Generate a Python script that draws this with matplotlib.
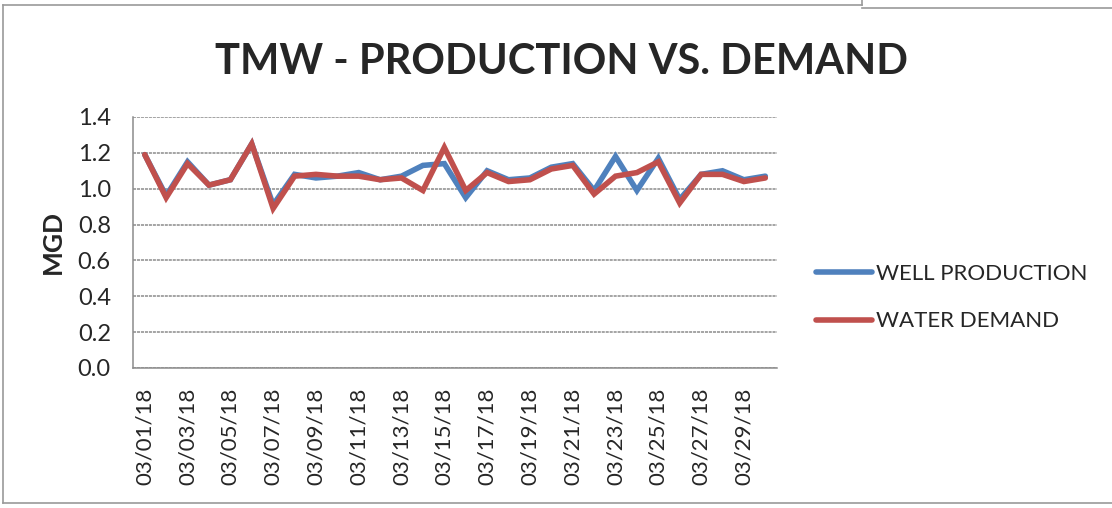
import matplotlib
matplotlib.use("Agg")
import matplotlib.pyplot as plt
from matplotlib.lines import Line2D

plt.rcParams["font.family"] = ["Lato", "DejaVu Sans"]

# daily values, March 2018 (MGD)
dates = [f"03/{d:02d}/18" for d in range(1, 31)]
well_production = [1.19, 0.96, 1.15, 1.02, 1.05, 1.25, 0.91, 1.08, 1.06, 1.07,
                   1.09, 1.05, 1.07, 1.13, 1.14, 0.95, 1.10, 1.05, 1.06, 1.12,
                   1.14, 0.99, 1.18, 0.99, 1.17, 0.94, 1.08, 1.10, 1.05, 1.07]
water_demand = [1.19, 0.95, 1.14, 1.02, 1.05, 1.25, 0.89, 1.07, 1.08, 1.07,
                1.07, 1.05, 1.06, 0.99, 1.23, 0.99, 1.09, 1.04, 1.05, 1.11,
                1.13, 0.97, 1.07, 1.09, 1.15, 0.92, 1.08, 1.08, 1.04, 1.06]
y_ticks = [0.0, 0.2, 0.4, 0.6, 0.8, 1.0, 1.2, 1.4]

BLUE = "#4f81bd"
RED = "#c0504d"
GRID = "#8c8c8c"
TEXT = "#262626"

fig = plt.figure(figsize=(11.12, 5.08), dpi=100)
ax = fig.add_axes([0.1196, 0.2756, 0.5792, 0.4941])

x = list(range(len(dates)))
ax.plot(x, well_production, color=BLUE, lw=4.0, solid_capstyle="round",
        solid_joinstyle="miter", label="WELL PRODUCTION", zorder=3)
ax.plot(x, water_demand, color=RED, lw=4.0, solid_capstyle="round",
        solid_joinstyle="miter", label="WATER DEMAND", zorder=4)

ax.set_xlim(-0.55, len(dates) - 0.45)
ax.set_ylim(0, 1.4)
ax.set_yticks(y_ticks)
ax.set_yticklabels([f"{v:.1f}" for v in y_ticks], fontsize=17, color=TEXT)
ax.set_xticks(x[::2])
ax.set_xticklabels(dates[::2], rotation=90, fontsize=16, color=TEXT)
ax.tick_params(length=0)
ax.tick_params(axis="y", pad=16)
ax.tick_params(axis="x", pad=14)

ax.grid(axis="y", color=GRID, lw=1.1, ls=(0, (2, 0.6)))
ax.set_axisbelow(True)
for side in ("top", "right"):
    ax.spines[side].set_visible(False)
for side in ("left", "bottom"):
    ax.spines[side].set_color(GRID)
    ax.spines[side].set_linewidth(1.1)

ax.set_ylabel("MGD", fontsize=19, fontweight="bold", color=TEXT, labelpad=9)

fig.suptitle("TMW - PRODUCTION VS. DEMAND", x=0.505, y=0.915, fontsize=30,
             fontweight="bold", color=TEXT)

fig.legend(loc="center left", bbox_to_anchor=(0.7158, 0.4144), frameon=False,
           fontsize=16, handlelength=2.5, handletextpad=0.2, labelspacing=1.25,
           labelcolor=TEXT)

# outer chart border (scanned page)
border = dict(color="#9a9a9a", lw=1.2, transform=None)
W, H = 1112, 508
fig.add_artist(Line2D([3, 3], [H - 5, H - 503], **border))
fig.add_artist(Line2D([3, 862], [H - 5, H - 5], **border))
fig.add_artist(Line2D([862, 862], [H, H - 5], **border))
fig.add_artist(Line2D([862, W], [H - 8, H - 8], **border))
fig.add_artist(Line2D([3, W], [H - 503, H - 503], **border))

fig.savefig("out.png", dpi=100)
